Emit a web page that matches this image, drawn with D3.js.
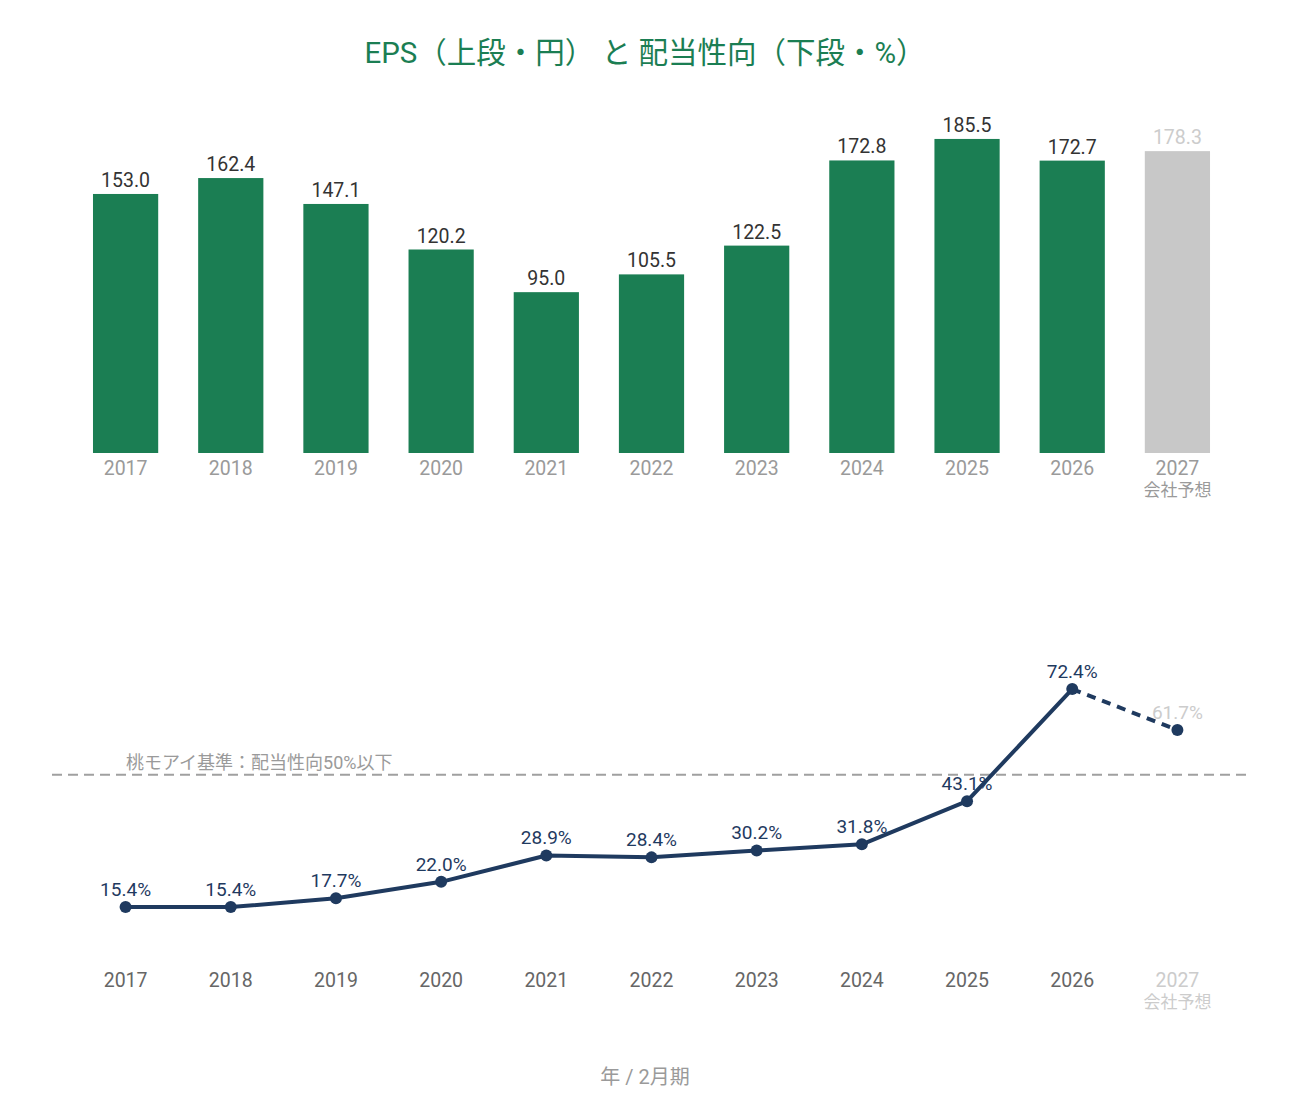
<!DOCTYPE html>
<html>
<head>
<meta charset="utf-8">
<script src="https://cdn.jsdelivr.net/npm/d3@7"></script>
<style>
    body { margin: 0; background: #fff; }
    svg { display: block; font-family: Roboto, "Noto Sans CJK JP", sans-serif; }
</style>
</head>
<body>
<svg id="chart" width="1290" height="1110"></svg>
<script>
const years = ['2017', '2018', '2019', '2020', '2021', '2022', '2023', '2024', '2025', '2026', '2027'];
const epsValues = [153.0, 162.4, 147.1, 120.2, 95.0, 105.5, 122.5, 172.8, 185.5, 172.7, 178.3];
const payoutValues = [15.4, 15.4, 17.7, 22.0, 28.9, 28.4, 30.2, 31.8, 43.1, 72.4, 61.7];
const forecastYear = '2027';
const forecastLabel = '会社予想';
const payoutThreshold = 50;
const thresholdLabel = '桃モアイ基準：配当性向50%以下';
const titleText = 'EPS（上段・円） と 配当性向（下段・%）';
const footerText = '年 / 2月期';

const fontFamily = 'Roboto, "Noto Sans CJK JP", sans-serif';
const green = '#1b7e53';
const navy = '#1f3a5f';
const forecastGray = '#c8c8c8';

const svg = d3.select('#chart');

const x = d3.scaleBand()
    .domain(years)
    .range([73, 1230])
    .paddingInner(0.38)
    .paddingOuter(0.19);

const isForecast = y => y === forecastYear;

// title
svg.append('text')
    .attr('x', 645)
    .attr('y', 63)
    .attr('text-anchor', 'middle')
    .attr('fill', green)
    .attr('font-size', 29.5)
    .text(titleText);

// upper: EPS bars
const barBase = 453;
const yEps = d3.scaleLinear()
    .domain([0, 200])
    .range([barBase, barBase - 338.6]);

const bars = svg.append('g');

bars.selectAll('rect')
    .data(years)
    .enter()
    .append('rect')
    .attr('x', d => x(d))
    .attr('width', x.bandwidth())
    .attr('y', (d, i) => yEps(epsValues[i]))
    .attr('height', (d, i) => barBase - yEps(epsValues[i]))
    .attr('fill', d => isForecast(d) ? forecastGray : green);

bars.selectAll('text.value')
    .data(years)
    .enter()
    .append('text')
    .attr('class', 'value')
    .attr('x', d => x(d) + x.bandwidth() / 2)
    .attr('y', (d, i) => yEps(epsValues[i]) - 7)
    .attr('text-anchor', 'middle')
    .attr('font-size', 19.5)
    .attr('fill', d => isForecast(d) ? '#cccccc' : '#333333')
    .text((d, i) => epsValues[i].toFixed(1));

const xAxisTop = svg.append('g')
    .attr('transform', `translate(0,${barBase})`)
    .call(d3.axisBottom(x).tickSize(0).tickPadding(8));
xAxisTop.select('.domain').remove();
xAxisTop.selectAll('text')
    .attr('font-size', 19.5)
    .attr('font-family', fontFamily)
    .attr('fill', '#9a9a9a');

svg.append('text')
    .attr('x', x(forecastYear) + x.bandwidth() / 2)
    .attr('y', 496)
    .attr('text-anchor', 'middle')
    .attr('font-size', 17)
    .attr('fill', '#9a9a9a')
    .text(forecastLabel);

// lower: payout ratio line
const yPay = d3.scaleLinear()
    .domain([0, 80])
    .range([966, 660]);

const cx = d => x(d) + x.bandwidth() / 2;

svg.append('line')
    .attr('x1', 52)
    .attr('x2', 1251)
    .attr('y1', yPay(payoutThreshold))
    .attr('y2', yPay(payoutThreshold))
    .attr('stroke', '#a0a0a0')
    .attr('stroke-width', 2)
    .attr('stroke-dasharray', '10,6');

svg.append('text')
    .attr('x', 126)
    .attr('y', yPay(payoutThreshold) - 6)
    .attr('font-size', 18)
    .attr('fill', '#9a9a9a')
    .text(thresholdLabel);

const points = years.map((d, i) => ({ year: d, value: payoutValues[i] }));
const actual = points.filter(p => !isForecast(p.year));
const forecastSeg = points.slice(points.length - 2);

const line = d3.line()
    .x(p => cx(p.year))
    .y(p => yPay(p.value));

svg.append('path')
    .datum(actual)
    .attr('d', line)
    .attr('fill', 'none')
    .attr('stroke', navy)
    .attr('stroke-width', 4)
    .attr('stroke-linejoin', 'round');

svg.append('path')
    .datum(forecastSeg)
    .attr('d', line)
    .attr('fill', 'none')
    .attr('stroke', navy)
    .attr('stroke-width', 4)
    .attr('stroke-dasharray', '9,7');

svg.append('g')
    .selectAll('circle')
    .data(points)
    .enter()
    .append('circle')
    .attr('cx', p => cx(p.year))
    .attr('cy', p => yPay(p.value))
    .attr('r', 6)
    .attr('fill', navy);

svg.append('g')
    .selectAll('text')
    .data(points)
    .enter()
    .append('text')
    .attr('x', p => cx(p.year))
    .attr('y', p => yPay(p.value) - 11)
    .attr('text-anchor', 'middle')
    .attr('font-size', 19)
    .attr('fill', p => isForecast(p.year) ? '#cccccc' : navy)
    .text(p => p.value.toFixed(1) + '%');

const xAxisBottom = svg.append('g')
    .attr('transform', 'translate(0,966)')
    .call(d3.axisBottom(x).tickSize(0).tickPadding(7));
xAxisBottom.select('.domain').remove();
xAxisBottom.selectAll('text')
    .attr('font-size', 19.5)
    .attr('font-family', fontFamily)
    .attr('fill', d => isForecast(d) ? '#cccccc' : '#666666');

svg.append('text')
    .attr('x', x(forecastYear) + x.bandwidth() / 2)
    .attr('y', 1008)
    .attr('text-anchor', 'middle')
    .attr('font-size', 17)
    .attr('fill', '#cccccc')
    .text(forecastLabel);

// footer
svg.append('text')
    .attr('x', 645)
    .attr('y', 1084)
    .attr('text-anchor', 'middle')
    .attr('font-size', 20)
    .attr('fill', '#9a9a9a')
    .text(footerText);
</script>
</body>
</html>
